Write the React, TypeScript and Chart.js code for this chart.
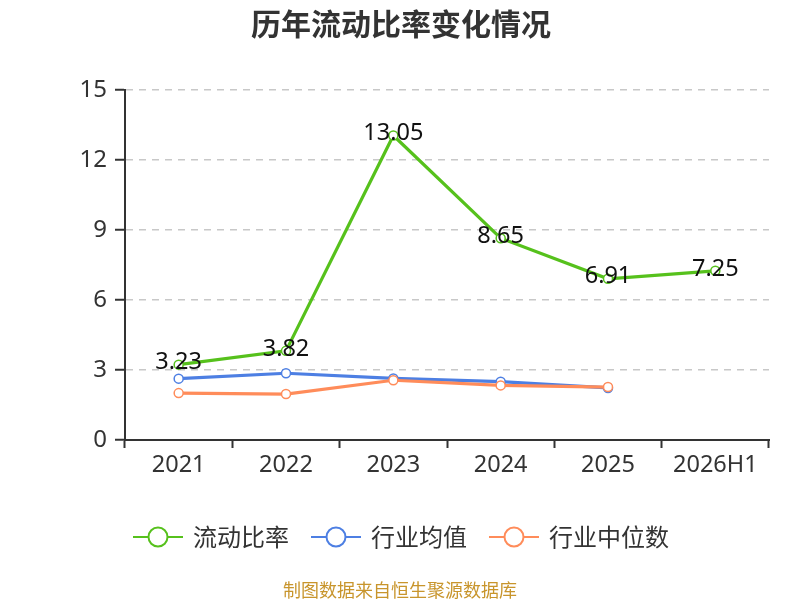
import React, { useEffect, useRef } from "react";
import { Chart, registerables } from "chart.js";

Chart.register(...registerables);

const categories = ["2021", "2022", "2023", "2024", "2025", "2026H1"];
const currentRatio = [3.23, 3.82, 13.05, 8.65, 6.91, 7.25];
const industryMean = [2.63, 2.86, 2.64, 2.5, 2.23, null];
const industryMedian = [2.01, 1.97, 2.56, 2.34, 2.27, null];
const yTicks = [0, 3, 6, 9, 12, 15];

const TITLE = "历年流动比率变化情况";
const SOURCE = "制图数据来自恒生聚源数据库";
const FONT = '"Noto Sans", "Noto Sans CJK SC", sans-serif';
const CJK = '"Noto Sans CJK SC", "Noto Sans", sans-serif';

const GREEN = "#56c11c";
const BLUE = "#4d7fe3";
const ORANGE = "#ff8c5a";

const overlay = {
  id: "overlay",
  afterDatasetsDraw(chart: any) {
    const ctx = chart.ctx;
    const meta = chart.getDatasetMeta(0);
    ctx.save();
    ctx.font = `23.5px ${FONT}`;
    ctx.fillStyle = "#111";
    ctx.textAlign = "center";
    ctx.textBaseline = "middle";
    meta.data.forEach((pt: any, i: number) => {
      const v = currentRatio[i];
      if (v == null) return;
      ctx.fillText(v.toFixed(2), pt.x, pt.y - 2);
    });
    ctx.restore();
  },
  afterDraw(chart: any) {
    const ctx = chart.ctx;
    ctx.save();
    ctx.font = `bold 30px ${CJK}`;
    ctx.fillStyle = "#333";
    ctx.textAlign = "center";
    ctx.textBaseline = "middle";
    ctx.fillText(TITLE, 401, 24);

    ctx.font = `24px ${CJK}`;
    const items = chart.data.datasets.map((d: any) => ({
      label: d.label,
      color: d.borderColor,
      w: ctx.measureText(d.label).width,
    }));
    const lineW = 50;
    const gap1 = 10;
    const gap2 = 22;
    let total = 0;
    items.forEach((it: any, i: number) => {
      total += lineW + gap1 + it.w + (i < items.length - 1 ? gap2 : 0);
    });
    let x = 401 - total / 2;
    const ly = 537;
    items.forEach((it: any) => {
      ctx.strokeStyle = it.color;
      ctx.lineWidth = 2;
      ctx.beginPath();
      ctx.moveTo(x, ly);
      ctx.lineTo(x + lineW, ly);
      ctx.stroke();
      ctx.beginPath();
      ctx.arc(x + lineW / 2, ly, 9.5, 0, Math.PI * 2);
      ctx.fillStyle = "#fff";
      ctx.fill();
      ctx.stroke();
      ctx.fillStyle = "#333";
      ctx.textAlign = "left";
      ctx.textBaseline = "middle";
      ctx.fillText(it.label, x + lineW + gap1, ly);
      x += lineW + gap1 + it.w + gap2;
    });

    ctx.font = `18px ${CJK}`;
    ctx.fillStyle = "#c8952c";
    ctx.textAlign = "center";
    ctx.textBaseline = "middle";
    ctx.fillText(SOURCE, 400, 590);
    ctx.restore();
  },
};

export default function App() {
  const ref = useRef<HTMLCanvasElement>(null);
  useEffect(() => {
    document.body.style.margin = "0";
    const mk = (label: string, data: any[], color: string, order: number) => ({
      label,
      data,
      borderColor: color,
      backgroundColor: "#fff",
      borderWidth: 3.2,
      pointRadius: 4.5,
      pointBorderWidth: 1.5,
      pointBackgroundColor: "#fff",
      pointBorderColor: color,
      tension: 0,
      order,
      spanGaps: false,
    });
    const chart = new Chart(ref.current!, {
      type: "line",
      data: {
        labels: categories,
        datasets: [
          mk("流动比率", currentRatio, GREEN, 0),
          mk("行业均值", industryMean, BLUE, 2),
          mk("行业中位数", industryMedian, ORANGE, 1),
        ],
      },
      options: {
        animation: false,
        responsive: false,
        devicePixelRatio: 1,
        layout: { padding: { top: 90, right: 31, left: 0, bottom: 0 } },
        plugins: {
          legend: { display: false },
          title: { display: false },
          tooltip: { enabled: false },
        },
        scales: {
          x: {
            offset: true,
            ticks: { color: "#333", font: { size: 23.5, family: FONT }, padding: 3, maxRotation: 0 },
            grid: {
              offset: true,
              drawOnChartArea: false,
              drawTicks: true,
              tickColor: "#333",
              tickLength: 8,
              tickWidth: 2,
            },
            border: { display: true, color: "#333", width: 2 },
            afterFit: (s: any) => {
              s.height = 160;
            },
          },
          y: {
            min: 0,
            max: 15,
            afterBuildTicks: (s: any) => {
              s.ticks = yTicks.map((v) => ({ value: v }));
            },
            ticks: { color: "#333", font: { size: 24, family: FONT }, padding: 8 },
            grid: {
              color: "#c8c8c8",
              lineWidth: 1.5,
              drawTicks: true,
              tickColor: "#333",
              tickLength: 10,
              tickWidth: 2,
            },
            border: { display: true, color: "#333", width: 2, dash: [7, 6] },
            afterFit: (s: any) => {
              s.width = 125;
            },
          },
        },
      },
      plugins: [overlay],
    });
    return () => chart.destroy();
  }, []);
  return (
    <div style={{ position: "absolute", left: 0, top: 0, width: 800, height: 600 }}>
      <canvas ref={ref} width={800} height={600} style={{ width: 800, height: 600 }} />
    </div>
  );
}
